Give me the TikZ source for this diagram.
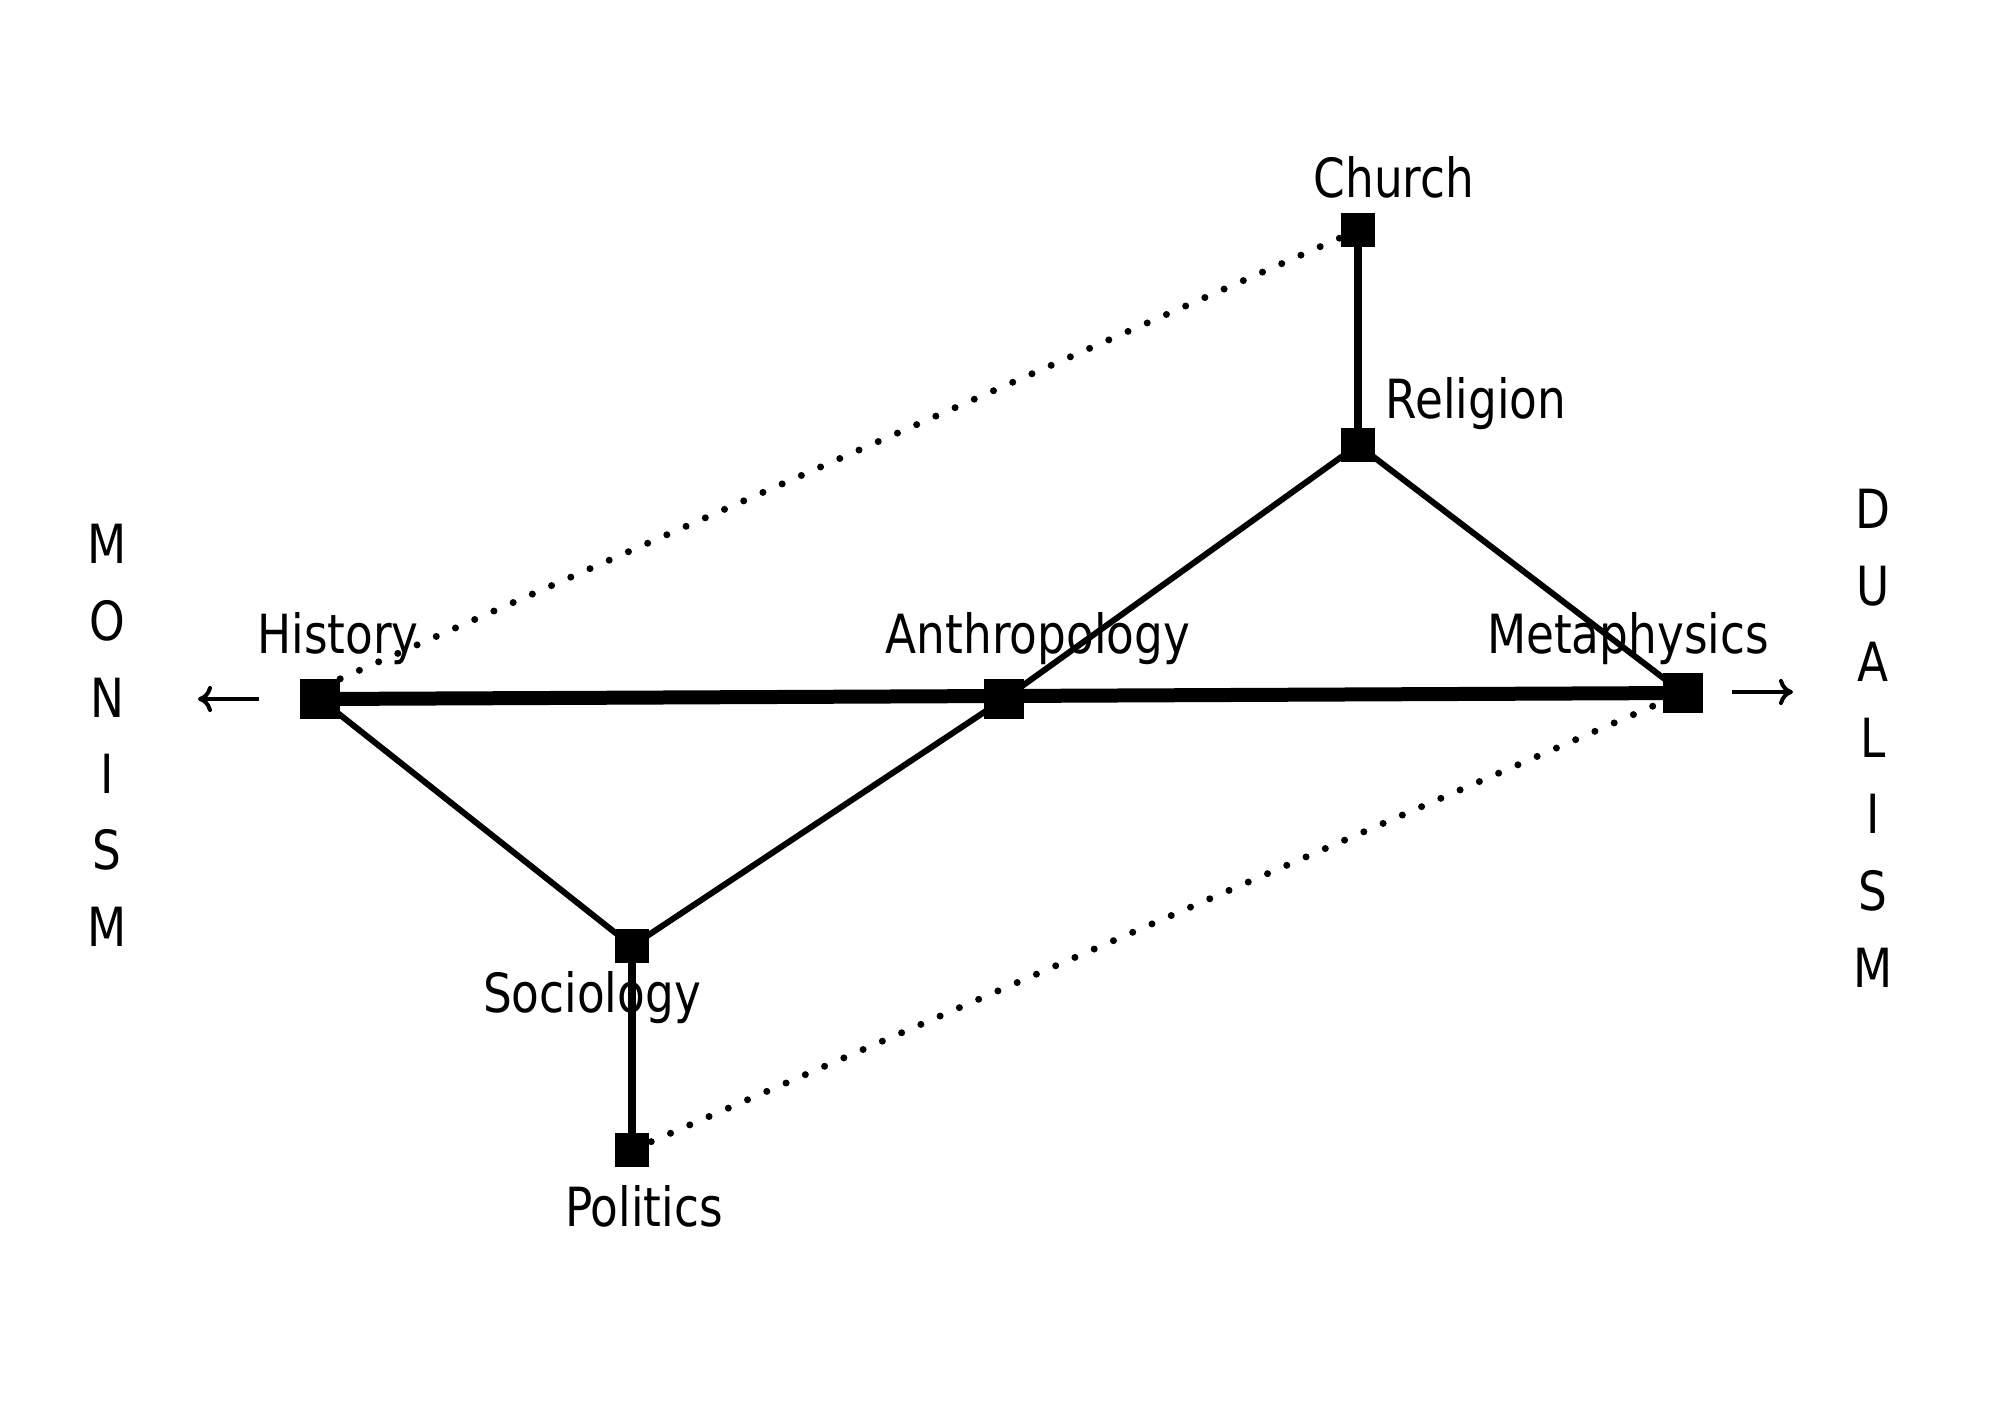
\documentclass[tikz,border=0pt]{standalone}
\usepackage{fontspec}
\setmainfont{DejaVu Sans}[FakeStretch=0.84]
\usetikzlibrary{arrows.meta,backgrounds}
\tikzset{
  sq/.style={fill=black,inner sep=0pt,minimum size=#1},
  lbl/.style={anchor=base,inner sep=0pt,font=\fontsize{54}{60}\selectfont},
  thinline/.style={line width=6pt},
  vertline/.style={line width=7.5pt},
  thickline/.style={line width=14pt},
  dotline/.style={line width=7pt,line cap=round,dash pattern=on 0pt off 21pt},
  arr/.style={line width=4pt,-{To[length=14pt,width=26pt]}}
}
\begin{document}
\begin{tikzpicture}[x=1pt,y=-1pt]
\useasboundingbox (0,0) rectangle (2000,1414);
% squares
\node[sq=40pt] (His) at (320,699) {};
\node[sq=40pt] (Ant) at (1004,699) {};
\node[sq=40pt] (Met) at (1683,693) {};
\node[sq=34pt] (Chu) at (1358,230) {};
\node[sq=34pt] (Rel) at (1358,445) {};
\node[sq=34pt] (Soc) at (632,946) {};
\node[sq=34pt] (Pol) at (632,1150) {};
% labels
\node[lbl] (lChu) at (1394,197) {Church};
\node[lbl] (lRel) at (1476,418) {Religion};
\node[lbl] (lHis) at (338,653) {History};
\node[lbl] (lAnt) at (1038,653) {Anthropology};
\node[lbl] (lMet) at (1628,653) {Metaphysics};
\node[lbl] (lSoc) at (592,1012) {Sociology};
\node[lbl] (lPol) at (644,1226) {Politics};
% side words
\foreach \c/\y [count=\i] in {M/563,O/640,N/717,I/793,S/869,M/946}
  \node[lbl] (mon\i) at (107,\y) {\c};
\foreach \c/\y [count=\i] in {D/528,U/605,A/681,L/757,I/833,S/910,M/987}
  \node[lbl] (dua\i) at (1873,\y) {\c};
% arrows
\coordinate (la1) at (259,699);
\coordinate (la2) at (198,699);
\coordinate (ra1) at (1732,692);
\coordinate (ra2) at (1793,692);
\draw[arr] (la1) -- (la2);
\draw[arr] (ra1) -- (ra2);
\begin{scope}[on background layer]
\draw[thickline] (His.center) -- (Met.center);
\draw[thinline] (His.center) -- (Soc.center);
\draw[thinline] (Soc.center) -- (Ant.center) -- (Rel.center);
\draw[thinline] (Rel.center) -- (Met.center);
\draw[vertline] (Chu.center) -- (Rel.center);
\draw[vertline] (Soc.center) -- (Pol.center);
\draw[dotline] (His.north east) -- (Chu.center);
\draw[dotline] (Pol.center) -- (Met.center);
\end{scope}
\end{tikzpicture}
\end{document}
